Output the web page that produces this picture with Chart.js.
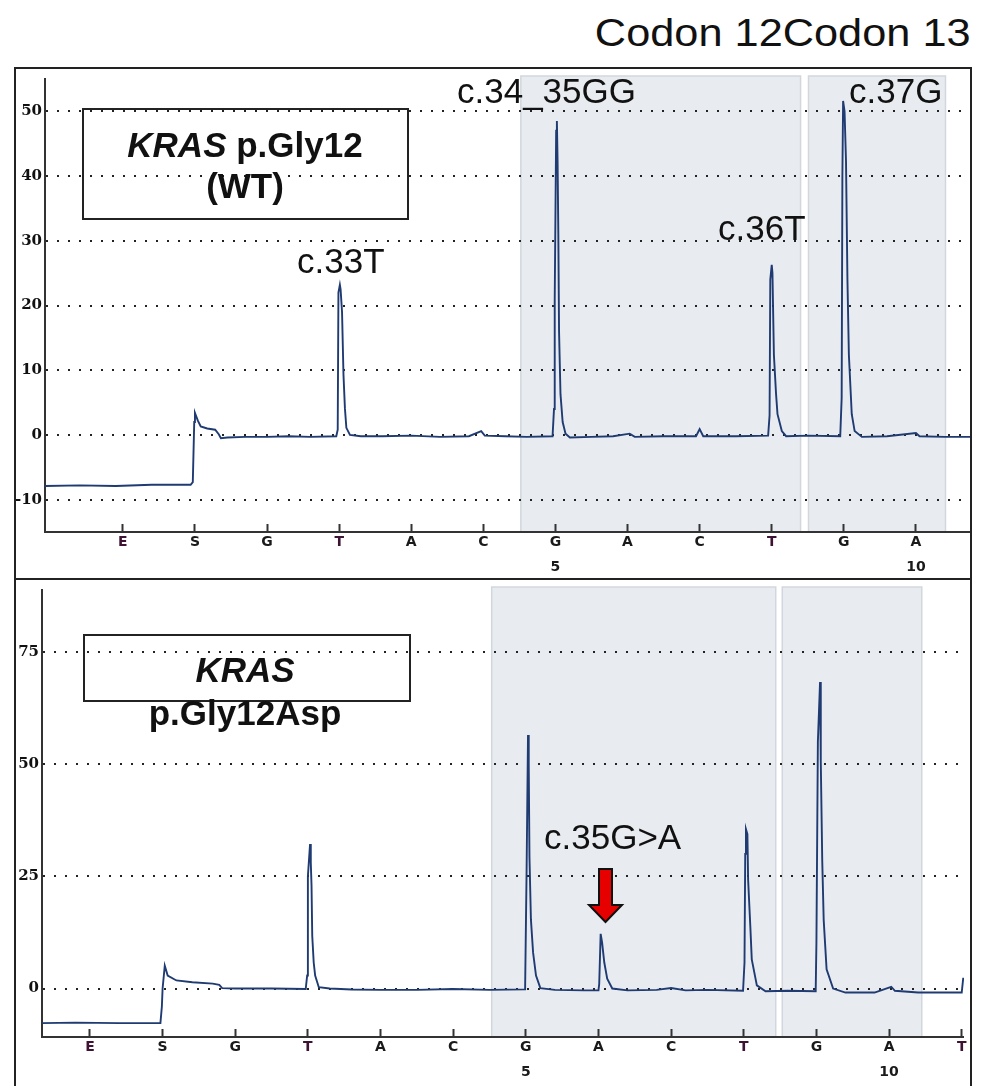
<!DOCTYPE html>
<html>
<head>
<meta charset="utf-8">
<script src="https://cdn.jsdelivr.net/npm/chart.js@4.4.1/dist/chart.umd.min.js"></script>
<style>
  body { margin: 0; background: #fff; width: 984px; height: 1086px; position: relative; overflow: hidden;
         font-family: "Liberation Sans", Arial, sans-serif; color: #111; }
  canvas { position: absolute; left: 14px; }
  .frame { position: absolute; left: 14px; width: 958px; border: 2px solid #222; box-sizing: border-box; }
  .lbl { position: absolute; font-size: 35px; line-height: 1; white-space: nowrap; }
  .box { position: absolute; border: 2px solid #222; box-sizing: border-box; }
  .btxt { position: absolute; left: 45px; width: 400px; text-align: center; font-weight: bold;
          font-size: 35px; line-height: 1; white-space: nowrap; }
  #title { position: absolute; right: 13px; top: 14px; font-size: 38px; line-height: 1; white-space: nowrap;
           transform: scaleX(1.14); transform-origin: right center; }
</style>
</head>
<body>
<canvas id="wt" width="958" height="511" style="top:67px"></canvas>
<canvas id="mut" width="958" height="508" style="top:578px"></canvas>

<div class="frame" style="top:67px;height:513px"></div>
<div class="frame" style="top:578px;height:530px"></div>

<div id="title">Codon 12Codon 13</div>

<div class="box" style="left:82px;top:108px;width:327px;height:112px"></div>
<div class="btxt" style="top:127px"><i>KRAS</i> p.Gly12</div>
<div class="btxt" style="top:168px">(WT)</div>
<div class="lbl" style="left:297px;top:243px">c.33T</div>
<div class="lbl" style="left:457px;top:73px">c.34_35GG</div>
<div class="lbl" style="left:718px;top:210px">c.36T</div>
<div class="lbl" style="left:849px;top:73px">c.37G</div>

<div class="box" style="left:83px;top:634px;width:328px;height:68px"></div>
<div class="btxt" style="top:652px"><i>KRAS</i></div>
<div class="btxt" style="top:695px">p.Gly12Asp</div>
<div class="lbl" style="left:544px;top:819px">c.35G&gt;A</div>
<svg style="position:absolute;left:0;top:0" width="984" height="1086">
  <polygon points="599,869 612,869 612,905 622,905 605.5,922 589,905 599,905"
           fill="#e60000" stroke="#111" stroke-width="2"/>
</svg>

<script>
// dispensation order and numbering under the x axis
const dispPos    = [-1, 0, 1, 2, 3, 4, 5, 6, 7, 8, 9, 10, 11];
const dispLetter = ['E', 'S', 'G', 'T', 'A', 'C', 'G', 'A', 'C', 'T', 'G', 'A', 'T'];
const dispNumber = ['', '', '', '', '', '', '5', '', '', '', '', '10', ''];

// y tick values for each panel
const wtYTicks  = [-10, 0, 10, 20, 30, 40, 50];
const mutYTicks = [0, 25, 50, 75];

// shaded codon 12 / codon 13 regions (x in dispensation units)
const wtCodons  = [[4.52, 8.40], [8.51, 10.41]];
const mutCodons = [[4.53, 8.44], [8.53, 10.45]];

// pyrogram traces: [dispensation position, signal]
const wtTrace = [
  [-2.08, -7.9], [-1.6, -7.8], [-1.1, -7.9], [-0.6, -7.7], [-0.06, -7.7], [-0.03, -7.3],
  [-0.01, 2.0], [0.0, 3.4], [0.04, 2.2], [0.08, 1.3], [0.17, 1.0], [0.28, 0.8], [0.33, 0.1],
  [0.36, -0.5], [0.45, -0.4], [0.7, -0.3], [1.0, -0.3], [1.3, -0.2], [1.6, -0.3], [1.96, -0.2],
  [1.98, 0.8], [1.99, 22.0], [2.01, 23.2], [2.02, 22.5], [2.04, 19.0], [2.06, 9.3], [2.08, 4.1],
  [2.10, 1.1], [2.15, 0.0], [2.3, -0.2], [2.6, -0.2], [3.0, -0.1], [3.4, -0.3], [3.8, -0.2],
  [3.97, 0.6], [4.02, -0.1], [4.3, -0.2], [4.6, -0.3], [4.96, -0.2], [4.98, 4.0], [4.99, 21.0],
  [5.01, 47.0], [5.02, 48.5], [5.03, 42.0], [5.04, 31.0], [5.05, 16.0], [5.07, 6.3], [5.10, 2.0],
  [5.14, 0.2], [5.2, -0.4], [5.5, -0.3], [5.8, -0.2], [6.03, 0.2], [6.1, -0.3], [6.5, -0.2],
  [6.95, -0.2], [7.0, 0.9], [7.05, -0.2], [7.5, -0.2], [7.95, -0.1], [7.97, 3.0], [7.98, 24.0],
  [8.0, 26.3], [8.01, 25.0], [8.03, 12.4], [8.06, 6.3], [8.08, 3.2], [8.14, 0.6], [8.2, -0.2],
  [8.5, -0.1], [8.95, -0.2], [8.97, 5.7], [8.98, 40.0], [8.99, 51.6], [9.01, 50.0], [9.03, 42.4],
  [9.05, 24.0], [9.07, 12.4], [9.11, 3.2], [9.15, 0.6], [9.25, -0.3], [9.6, -0.2], [10.0, 0.3],
  [10.05, -0.2], [10.4, -0.3], [10.75, -0.3]
];

const mutTrace = [
  [-1.66, -7.7], [-1.2, -7.6], [-0.6, -7.7], [-0.03, -7.7], [-0.01, -4.0], [0.0, 0.0], [0.03, 5.1],
  [0.07, 2.9], [0.19, 1.8], [0.41, 1.4], [0.69, 1.1], [0.78, 0.8], [0.82, 0.1], [1.0, 0.0],
  [1.5, 0.0], [1.97, -0.1], [1.99, 2.9], [2.0, 25.0], [2.03, 32.2], [2.04, 28.0], [2.05, 23.0],
  [2.06, 11.7], [2.08, 5.8], [2.10, 2.9], [2.15, 0.3], [2.3, 0.0], [2.6, -0.2], [3.0, -0.3],
  [3.5, -0.3], [4.0, -0.1], [4.5, -0.3], [4.99, -0.2], [5.01, 25.6], [5.03, 56.5], [5.04, 49.8],
  [5.05, 29.3], [5.07, 15.4], [5.10, 8.0], [5.14, 2.9], [5.2, 0.1], [5.4, -0.3], [5.8, -0.4],
  [6.0, -0.4], [6.01, 1.0], [6.03, 12.2], [6.05, 10.2], [6.08, 5.8], [6.12, 2.2], [6.19, 0.0],
  [6.4, -0.4], [6.8, -0.3], [7.0, 0.1], [7.2, -0.4], [7.5, -0.3], [7.99, -0.5], [8.01, 5.8],
  [8.02, 30.0], [8.03, 35.5], [8.05, 34.4], [8.06, 24.2], [8.09, 13.9], [8.11, 6.5], [8.18, 0.7],
  [8.3, -0.6], [8.6, -0.5], [8.99, -0.6], [9.0, 10.2], [9.02, 55.0], [9.05, 68.3], [9.06, 50.6],
  [9.08, 28.6], [9.10, 15.3], [9.14, 4.3], [9.23, 0.0], [9.4, -0.9], [9.8, -0.9], [10.03, 0.4],
  [10.08, -0.5], [10.4, -0.9], [10.8, -0.9], [11.0, -0.9], [11.02, 2.2], [11.03, 2.3]
];

// light grey boxes behind the trace for each codon
const codonShade = {
  id: 'codonShade',
  beforeDraw(chart, args, opts) {
    const {ctx, chartArea, scales} = chart;
    ctx.save();
    opts.regions.forEach(([a, b]) => {
      const l = scales.x.getPixelForValue(a);
      const r = scales.x.getPixelForValue(b);
      const t = chartArea.top - 3;
      ctx.fillStyle = '#e8ecf1';
      ctx.fillRect(l, t, r - l, chartArea.bottom - t);
      ctx.strokeStyle = '#d2d7de';
      ctx.lineWidth = 1.5;
      ctx.strokeRect(l, t, r - l, chartArea.bottom - t);
    });
    ctx.restore();
  }
};

function pyrogram(id, trace, codons, xr, yr, yTicks, yw, xh, pad) {
  return new Chart(document.getElementById(id), {
    type: 'line',
    data: {
      datasets: [{
        data: trace.map(p => ({x: p[0], y: p[1]})),
        borderColor: '#1f3b72',
        borderWidth: 1.9,
        pointRadius: 0,
        tension: 0
      }]
    },
    plugins: [codonShade],
    options: {
      responsive: false,
      animation: false,
      layout: {padding: pad},
      plugins: {
        legend: {display: false},
        tooltip: {enabled: false},
        codonShade: {regions: codons}
      },
      scales: {
        x: {
          type: 'linear',
          min: xr[0],
          max: xr[1],
          afterBuildTicks: axis => {
            axis.ticks = dispPos.filter(v => v >= axis.min && v <= axis.max).map(v => ({value: v}));
          },
          afterFit: s => { s.height = xh; },
          grid: {drawOnChartArea: false, drawTicks: true, tickLength: -8, tickColor: '#333', tickWidth: 2},
          border: {color: '#333', width: 2},
          ticks: {
            padding: 5.5,
            maxRotation: 0,
            autoSkip: false,
            font: {family: 'DejaVu Sans', weight: 'bold', size: 14, lineHeight: '25px'},
            color: c => {
              const l = dispLetter[dispPos.indexOf(c.tick.value)];
              return (l === 'E' || l === 'T') ? '#3d1232' : '#1a1a1a';
            },
            callback: v => {
              const i = dispPos.indexOf(v);
              return [dispLetter[i], dispNumber[i]];
            }
          }
        },
        y: {
          min: yr[0],
          max: yr[1],
          afterBuildTicks: axis => { axis.ticks = yTicks.map(v => ({value: v})); },
          afterFit: s => { s.width = yw; },
          grid: {color: '#222', lineWidth: 2, drawTicks: false},
          border: {color: '#333', width: 2, dash: [2, 9]},
          ticks: {
            padding: 3,
            color: '#111',
            font: {family: 'DejaVu Serif', weight: 'bold', size: 15}
          }
        }
      }
    }
  });
}

pyrogram('wt', wtTrace, wtCodons, [-2.08, 10.75], [-15, 55], wtYTicks, 31, 46, {top: 9, right: 2, left: 0, bottom: 0});
pyrogram('mut', mutTrace, mutCodons, [-1.66, 11.03], [-10.8, 88.8], mutYTicks, 28, 49, {top: 7, right: 4, left: 0, bottom: 0});
</script>
</body>
</html>
